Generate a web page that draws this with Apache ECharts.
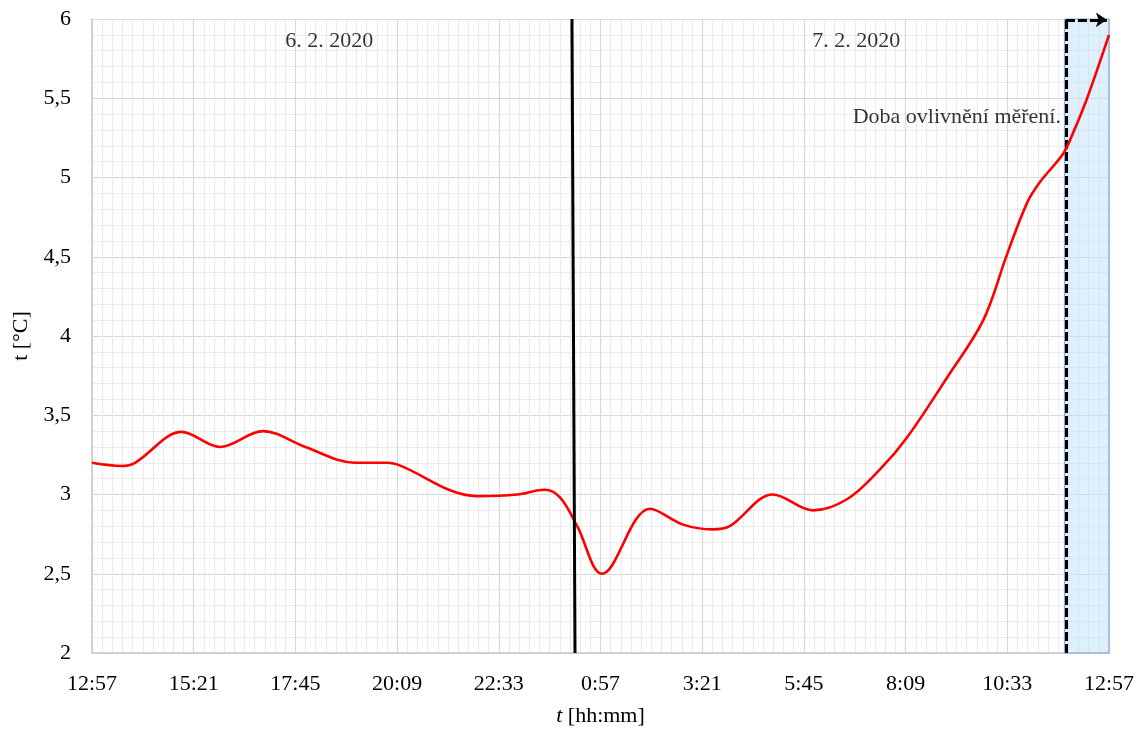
<!DOCTYPE html>
<html>
<head>
<meta charset="utf-8">
<script src="https://cdn.jsdelivr.net/npm/echarts@6/dist/echarts.min.js"></script>
<style>
html,body{margin:0;padding:0;background:#fff;}
#c{width:1145px;height:734px;}
</style>
</head>
<body>
<div id="c"></div>
<script>
// minutes elapsed since 6. 2. 2020 12:57
const minutes = [0, 42, 61, 127, 181, 242, 302, 372, 418, 432, 545, 602, 641, 663, 687, 722, 790, 837, 879, 903, 964, 1021, 1069, 1116, 1154, 1211, 1262, 1296, 1324, 1342, 1375, 1389, 1409, 1440];
const temps   = [3.20, 3.18, 3.20, 3.395, 3.30, 3.40, 3.30, 3.20, 3.20, 3.19, 2.99, 3.00, 3.03, 2.98, 2.80, 2.50, 2.91, 2.81, 2.78, 2.80, 3.00, 2.90, 2.97, 3.16, 3.36, 3.74, 4.10, 4.52, 4.84, 4.97, 5.15, 5.28, 5.50, 5.90];
const xTickLabels = ['12:57','15:21','17:45','20:09','22:33','0:57','3:21','5:45','8:09','10:33','12:57'];
const yTickLabels = ['2','2,5','3','3,5','4','4,5','5','5,5','6'];
const dayLineTop = [679.6, 6];
const dayLineBottom = [683.9, 2];
const influenceStart = 1379;
const influenceEnd = 1440;
const arrowEnd = 1437;
const dayLabels = ['6. 2. 2020', '7. 2. 2020'];
const influenceLabel = 'Doba ovlivnění měření.';

const FONT = '"Liberation Serif", "DejaVu Serif", serif';
const FS = 22;
const chart = echarts.init(document.getElementById('c'), null, {renderer:'canvas'});
const curve = minutes.map((m,i)=>[m,temps[i]]);

chart.setOption({
  animation:false,
  backgroundColor:'#fff',
  textStyle:{fontFamily:FONT},
  grid:{left:92, right:36, top:19, bottom:81, containLabel:false},
  xAxis:{
    type:'value', min:0, max:1440, interval:144,
    axisLine:{show:true, lineStyle:{color:'#c8c8c8', width:1.5}},
    axisTick:{show:false},
    axisLabel:{color:'#000', fontFamily:FONT, fontSize:FS, margin:20,
      formatter:v=>xTickLabels[Math.round(v/144)]},
    splitLine:{show:true, lineStyle:{color:'#d9d9d9', width:1.2}},
    minorTick:{show:false, splitNumber:10},
    minorSplitLine:{show:true, lineStyle:{color:'#ebebeb', width:1.2}},
    name:'{i|t} [hh:mm]', nameLocation:'middle', nameGap:52,
    nameTextStyle:{color:'#000', fontFamily:FONT, fontSize:FS,
      rich:{i:{fontStyle:'italic', fontFamily:FONT, fontSize:FS, color:'#000'}}}
  },
  yAxis:{
    type:'value', min:2, max:6, interval:0.5,
    axisLine:{show:true, lineStyle:{color:'#c8c8c8', width:1.5}},
    axisTick:{show:false},
    axisLabel:{color:'#000', fontFamily:FONT, fontSize:FS, margin:21,
      formatter:v=>yTickLabels[Math.round((v-2)/0.5)]},
    splitLine:{show:true, lineStyle:{color:'#d9d9d9', width:1.2}},
    minorTick:{show:false, splitNumber:5},
    minorSplitLine:{show:true, lineStyle:{color:'#ebebeb', width:1.2}},
    name:'t [°C]', nameLocation:'middle', nameGap:54, nameRotate:90,
    nameTextStyle:{color:'#000', fontFamily:FONT, fontSize:FS}
  },
  series:[
    {
      type:'line', name:'influence', data:[], silent:true, clip:false,
      markArea:{
        silent:true,
        itemStyle:{color:'rgba(190,225,247,0.5)', borderColor:'#8ea9d3', borderWidth:1.2},
        data:[[{coord:[influenceStart-2, 2]},{coord:[influenceEnd, 6.02]}]]
      }
    },
    {
      type:'line', name:'temp', data:curve, smooth:0.35, showSymbol:false, symbol:'none',
      lineStyle:{color:'#ff0000', width:2.6}, z:5
    },
    {
      type:'line', name:'day', data:[dayLineTop, dayLineBottom], showSymbol:false, symbol:'none',
      lineStyle:{color:'#000', width:3}, z:6, clip:false
    },
    {
      type:'line', name:'arrow', data:[], silent:true, clip:false, z:7,
      markLine:{
        silent:true, animation:false,
        label:{show:false},
        lineStyle:{color:'#000', width:3, type:[9,3]},
        data:[
          [{coord:[influenceStart,2], symbol:'none'},{coord:[influenceStart,5.995], symbol:'none'}],
          [{coord:[influenceStart,5.995], symbol:'none'},{coord:[arrowEnd,5.995], symbol:'arrow', symbolSize:[11,11]}]
        ]
      }
    },
    {
      type:'scatter', name:'labels', silent:true, symbolSize:0, z:8,
      data:[
        {value:[336,5.86], label:{show:true, formatter:dayLabels[0], position:'inside', color:'#000', fontFamily:FONT, fontSize:FS}},
        {value:[1082,5.86], label:{show:true, formatter:dayLabels[1], position:'inside', color:'#000', fontFamily:FONT, fontSize:FS}},
        {value:[1372,5.38], label:{show:true, formatter:influenceLabel, position:'left', distance:0, color:'#000', fontFamily:FONT, fontSize:FS}}
      ]
    }
  ]
});
</script>
</body>
</html>
